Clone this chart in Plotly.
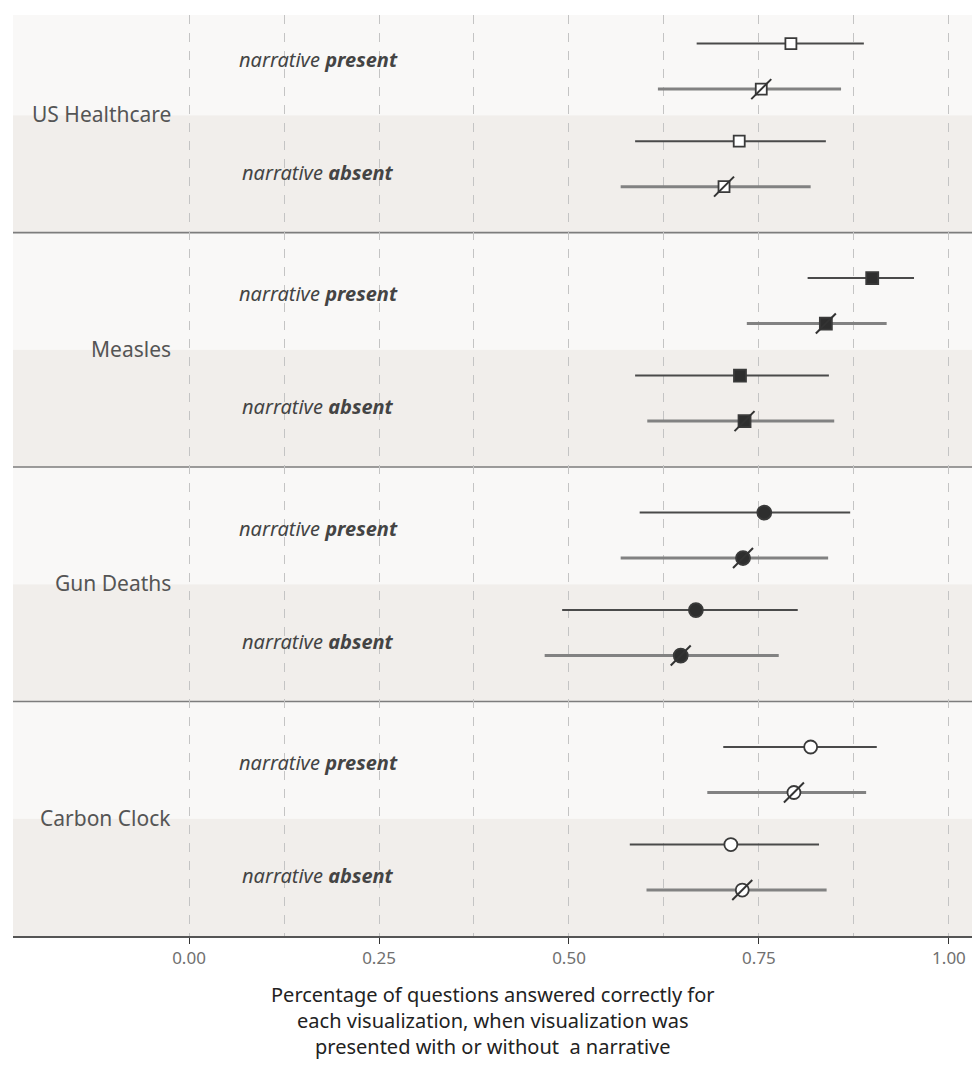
import plotly.graph_objects as go

# ---------------- data ----------------
visualizations = ["US Healthcare", "Measles", "Gun Deaths", "Carbon Clock"]
conditions = ["present", "absent"]

# narrative present, plain marker
present_plain_est = [0.792, 0.899, 0.757, 0.818]
present_plain_lo = [0.668, 0.814, 0.593, 0.703]
present_plain_hi = [0.888, 0.954, 0.870, 0.905]
# narrative present, slashed marker
present_slash_est = [0.753, 0.838, 0.729, 0.796]
present_slash_lo = [0.617, 0.734, 0.568, 0.682]
present_slash_hi = [0.858, 0.918, 0.841, 0.891]
# narrative absent, plain marker
absent_plain_est = [0.724, 0.725, 0.667, 0.713]
absent_plain_lo = [0.587, 0.587, 0.491, 0.580]
absent_plain_hi = [0.838, 0.842, 0.801, 0.829]
# narrative absent, slashed marker
absent_slash_est = [0.704, 0.731, 0.647, 0.728]
absent_slash_lo = [0.568, 0.603, 0.468, 0.602]
absent_slash_hi = [0.818, 0.849, 0.776, 0.839]

tick_vals = [0, 0.25, 0.5, 0.75, 1.0]
tick_text = ["0.00", "0.25", "0.50", "0.75", "1.00"]
x_title = ("Percentage of questions answered correctly for<br>"
           "each visualization, when visualization was<br>"
           "presented with or without  a narrative")

# ---------------- layout constants ----------------
PANEL = 5.0
row_offsets = [0.97, 1.94, 3.05, 4.02]
symbols = ["square", "square", "circle", "circle"]
fills = ["white", "#2e2e2e", "#2e2e2e", "white"]
sizes = [11, 12, 14, 13]
FONT = "Noto Sans"

rows = [
    (present_plain_est, present_plain_lo, present_plain_hi, False),
    (present_slash_est, present_slash_lo, present_slash_hi, True),
    (absent_plain_est, absent_plain_lo, absent_plain_hi, False),
    (absent_slash_est, absent_slash_lo, absent_slash_hi, True),
]

fig = go.Figure()

for r, (est, lo, hi, slashed) in enumerate(rows):
    ys = [-(p * PANEL + row_offsets[r]) for p in range(len(visualizations))]
    err_color = "#828282" if slashed else "#4a4a4a"
    err_w = 3 if slashed else 2
    fig.add_trace(go.Scatter(
        x=est, y=ys, mode="markers",
        error_x=dict(type="data", symmetric=False,
                     array=[h - e for h, e in zip(hi, est)],
                     arrayminus=[e - l for e, l in zip(est, lo)],
                     width=0, thickness=err_w, color=err_color),
        marker=dict(symbol=symbols, color=fills, size=sizes, opacity=1,
                    line=dict(color="#3a3a3a", width=1.8)),
        showlegend=False, hoverinfo="x",
    ))
    if slashed:
        fig.add_trace(go.Scatter(
            x=est, y=ys, mode="markers",
            marker=dict(symbol="line-ne", size=20, opacity=1,
                        line=dict(color="#333333", width=2)),
            showlegend=False, hoverinfo="skip",
        ))

shapes = []
annotations = []
for p, name in enumerate(visualizations):
    top = -p * PANEL
    mid = top - PANEL / 2
    bot = top - PANEL
    shapes.append(dict(type="rect", xref="paper", yref="y", x0=0, x1=1, y0=mid, y1=top,
                       fillcolor="#f9f8f7", line=dict(width=0), layer="below"))
    shapes.append(dict(type="rect", xref="paper", yref="y", x0=0, x1=1, y0=bot, y1=mid,
                       fillcolor="#f1eeeb", line=dict(width=0), layer="below"))
    if p > 0:
        shapes.append(dict(type="line", xref="paper", yref="y", x0=0, x1=1, y0=top, y1=top,
                           line=dict(color="#7d7d7d", width=1.6), layer="between"))
    annotations.append(dict(x=-0.021, y=top - 2.48, xref="x", yref="y", text=name,
                            showarrow=False, xanchor="right", yanchor="middle",
                            font=dict(family=FONT, size=21, color="#555555")))
    for c, cond in enumerate(conditions):
        annotations.append(dict(x=0.170, y=top - (1.3 if c == 0 else 3.71), xref="x", yref="y",
                                text=f"<i>narrative <b>{cond}</b></i>",
                                showarrow=False, xanchor="center", yanchor="middle",
                                font=dict(family=FONT, size=20, color="#444444")))

annotations.append(dict(x=0.5, y=-0.0915, xref="paper", yref="paper", text=x_title,
                        showarrow=False, xanchor="center", yanchor="middle", align="center",
                        font=dict(family=FONT, size=20, color="#222222")))

fig.update_layout(
    width=964, height=1054,
    margin=dict(l=5, r=0, t=7, b=126),
    paper_bgcolor="white", plot_bgcolor="white",
    shapes=shapes, annotations=annotations,
    xaxis=dict(range=[-0.2316, 1.0303], tickvals=tick_vals, ticktext=tick_text,
               ticks="outside", ticklen=6, tickwidth=1.2, tickcolor="#333333",
               tickfont=dict(family=FONT, size=17, color="#707070"),
               showline=True, linecolor="#555555", linewidth=2,
               showgrid=True, gridcolor="#c4c4c4", gridwidth=1, griddash="dash",
               zeroline=False,
               minor=dict(tickvals=[0.125, 0.375, 0.625, 0.875], showgrid=True,
                          gridcolor="#c4c4c4", gridwidth=1, griddash="dash", ticks="")),
    yaxis=dict(range=[-20, -0.36], showticklabels=False, showgrid=False,
               zeroline=False, showline=False, ticks=""),
)

fig.write_html("out.html")
